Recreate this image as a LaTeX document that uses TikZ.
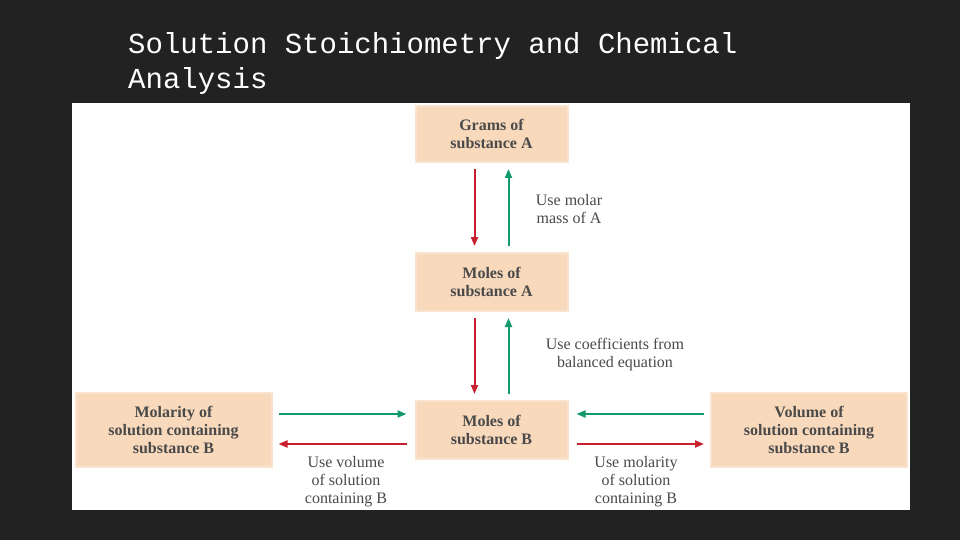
\documentclass[tikz,border=0pt]{standalone}
\usepackage{fontspec}
\setmainfont{Liberation Serif}
\newfontfamily\monof{Liberation Mono}
\usetikzlibrary{arrows.meta}
\definecolor{board}{HTML}{222222}
\definecolor{peach}{HTML}{F8D9BC}
\definecolor{redA}{HTML}{C8202F}
\definecolor{greenA}{HTML}{139A6B}
\definecolor{txt}{HTML}{4A4A4A}
\tikzset{
 box/.style={fill=peach, draw=peach!70!white, line width=2pt, align=center, inner sep=0pt, font=\bfseries\fontsize{16}{18}\selectfont, text=txt},
 lab/.style={align=center, font=\fontsize{16}{18}\selectfont, text=txt, inner sep=0pt},
 ra/.style={draw=redA, line width=2pt, -{Triangle[length=9pt,width=7pt]}},
 ga/.style={draw=greenA, line width=2pt, -{Triangle[length=9pt,width=7pt]}}
}
\begin{document}
\begin{tikzpicture}[x=1pt,y=-1pt]
\fill[board] (0,0) rectangle (960,540);
\useasboundingbox (0,0) rectangle (960,540);
\node[anchor=west, text=white, font=\monof\fontsize{29}{32}\selectfont, inner sep=0pt] (t1) at (128,46) {Solution Stoichiometry and Chemical};
\node[anchor=west, text=white, font=\monof\fontsize{29}{32}\selectfont, inner sep=0pt] (t2) at (128,81) {Analysis};
\fill[white] (72,103) rectangle (910,510);
\node[box, minimum width=152, minimum height=56] (g) at (491.5,134) {Grams of\\substance A};
\node[box, minimum width=152, minimum height=58] (ma) at (491.5,282) {Moles of\\substance A};
\node[box, minimum width=152, minimum height=58] (mb) at (491.5,430) {Moles of\\substance B};
\node[box, minimum width=196, minimum height=74] (mol) at (173.5,430) {Molarity of\\solution containing\\substance B};
\node[box, minimum width=196, minimum height=74] (vol) at (809,430) {Volume of\\solution containing\\substance B};
\draw[ra] ([xshift=-17,yshift=-6]g.south) -- ([xshift=-17,yshift=6]ma.north);
\draw[ga] ([xshift=17,yshift=6]ma.north) -- ([xshift=17,yshift=-6]g.south);
\draw[ra] ([xshift=-17,yshift=-6]ma.south) -- ([xshift=-17,yshift=6]mb.north);
\draw[ga] ([xshift=17,yshift=6]mb.north) -- ([xshift=17,yshift=-6]ma.south);
\draw[ga] ([xshift=6,yshift=16]mol.east) -- ([xshift=-8,yshift=16]mb.west);
\draw[ra] ([xshift=-8,yshift=-14]mb.west) -- ([xshift=6,yshift=-14]mol.east);
\draw[ga] ([xshift=-6,yshift=16]vol.west) -- ([xshift=8,yshift=16]mb.east);
\draw[ra] ([xshift=8,yshift=-14]mb.east) -- ([xshift=-6,yshift=-14]vol.west);
\node[lab] (l1) at (569,209) {Use molar\\mass of A};
\node[lab] (l2) at (615,355) {Use coefficients from\\balanced equation};
\node[lab] (l3) at (346,482) {Use volume\\of solution\\containing B};
\node[lab] (l4) at (636,482) {Use molarity\\of solution\\containing B};
\end{tikzpicture}
\end{document}
